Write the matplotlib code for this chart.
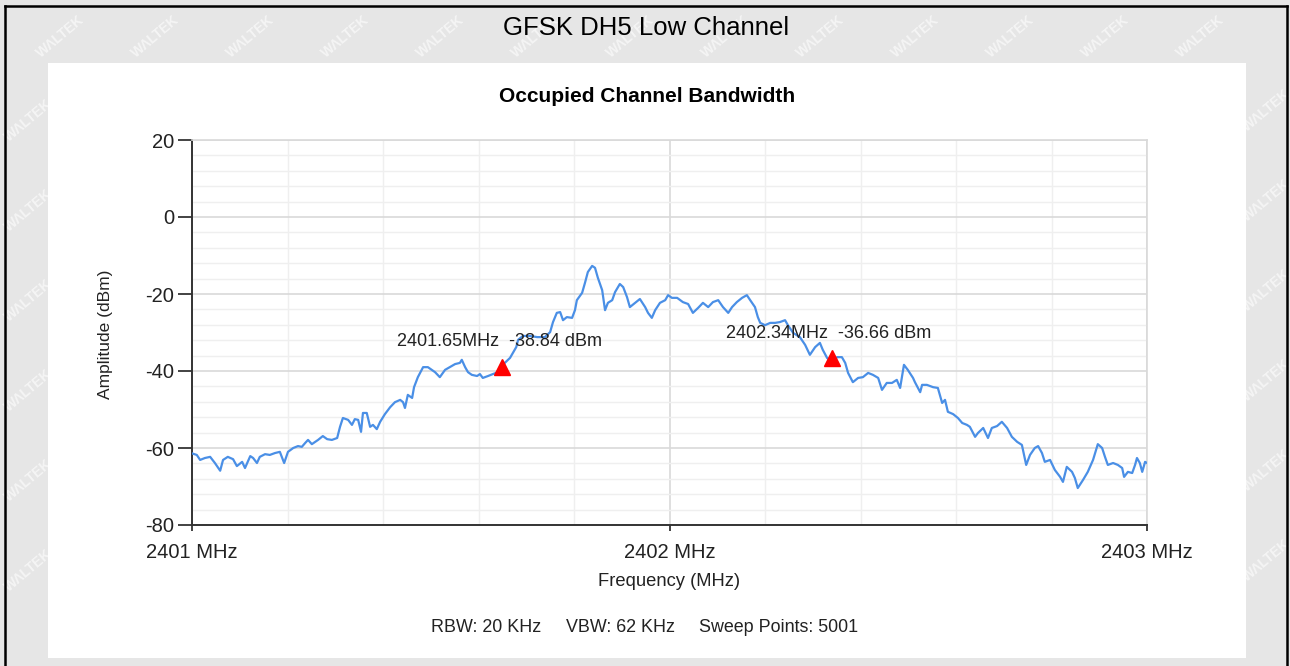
import matplotlib
matplotlib.use('Agg')
import matplotlib.pyplot as plt
from matplotlib.patches import Rectangle
from matplotlib.lines import Line2D
from matplotlib.ticker import MultipleLocator

plt.rcParams['font.family'] = ['Liberation Sans', 'DejaVu Sans']
plt.rcParams['axes.unicode_minus'] = False

# ---------------- data ----------------
freq = [2401.000, 2401.010, 2401.017, 2401.027, 2401.038, 2401.048, 2401.059, 2401.065,
        2401.075, 2401.086, 2401.094, 2401.105, 2401.111, 2401.122, 2401.128, 2401.136,
        2401.142, 2401.153, 2401.163, 2401.174, 2401.184, 2401.193, 2401.201, 2401.212,
        2401.222, 2401.230, 2401.237, 2401.243, 2401.251, 2401.258, 2401.264, 2401.274,
        2401.283, 2401.293, 2401.304, 2401.310, 2401.316, 2401.327, 2401.335, 2401.341,
        2401.348, 2401.354, 2401.358, 2401.366, 2401.373, 2401.379, 2401.387, 2401.394,
        2401.404, 2401.415, 2401.425, 2401.436, 2401.442, 2401.446, 2401.452, 2401.461,
        2401.465, 2401.473, 2401.484, 2401.494, 2401.509, 2401.519, 2401.530, 2401.540,
        2401.551, 2401.561, 2401.565, 2401.572, 2401.578, 2401.586, 2401.597, 2401.603,
        2401.609, 2401.620, 2401.630, 2401.641, 2401.649, 2401.655, 2401.666, 2401.672,
        2401.679, 2401.683, 2401.693, 2401.708, 2401.723, 2401.739, 2401.750, 2401.756,
        2401.764, 2401.771, 2401.777, 2401.785, 2401.796, 2401.802, 2401.806, 2401.817,
        2401.823, 2401.829, 2401.838, 2401.844, 2401.850, 2401.859, 2401.865, 2401.871,
        2401.880, 2401.886, 2401.896, 2401.903, 2401.911, 2401.917, 2401.928, 2401.938,
        2401.949, 2401.955, 2401.963, 2401.970, 2401.980, 2401.991, 2401.997, 2402.005,
        2402.016, 2402.028, 2402.039, 2402.049, 2402.060, 2402.070, 2402.081, 2402.091,
        2402.102, 2402.112, 2402.123, 2402.131, 2402.141, 2402.152, 2402.162, 2402.169,
        2402.179, 2402.185, 2402.190, 2402.200, 2402.211, 2402.221, 2402.231, 2402.242,
        2402.248, 2402.259, 2402.273, 2402.284, 2402.294, 2402.305, 2402.315, 2402.321,
        2402.330, 2402.340, 2402.351, 2402.361, 2402.368, 2402.374, 2402.384, 2402.395,
        2402.405, 2402.416, 2402.426, 2402.437, 2402.445, 2402.455, 2402.466, 2402.476,
        2402.483, 2402.491, 2402.499, 2402.510, 2402.514, 2402.525, 2402.529, 2402.539,
        2402.552, 2402.562, 2402.571, 2402.577, 2402.583, 2402.594, 2402.604, 2402.613,
        2402.623, 2402.629, 2402.640, 2402.646, 2402.657, 2402.667, 2402.675, 2402.686,
        2402.696, 2402.707, 2402.717, 2402.728, 2402.738, 2402.747, 2402.755, 2402.765,
        2402.772, 2402.780, 2402.786, 2402.797, 2402.807, 2402.818, 2402.824, 2402.832,
        2402.843, 2402.849, 2402.855, 2402.866, 2402.876, 2402.887, 2402.897, 2402.906,
        2402.912, 2402.918, 2402.929, 2402.939, 2402.948, 2402.952, 2402.960, 2402.969,
        2402.975, 2402.979, 2402.985, 2402.990, 2402.996, 2403.000]
amp = [-61.4, -61.8, -63.1, -62.6, -62.3, -63.9, -65.9, -63.1,
       -62.3, -62.9, -64.7, -63.6, -65.2, -62.1, -62.6, -63.9,
       -62.3, -61.6, -61.8, -61.3, -61.0, -63.9, -61.0, -60.0,
       -59.5, -59.7, -58.7, -57.9, -59.0, -58.4, -57.9, -56.9,
       -57.7, -57.9, -57.4, -54.5, -52.2, -52.7, -54.0, -52.5,
       -52.7, -55.8, -50.9, -50.9, -54.5, -54.0, -55.1, -53.2,
       -51.2, -49.4, -48.1, -47.5, -48.1, -49.6, -46.2, -47.0,
       -44.2, -41.6, -39.0, -39.0, -40.3, -41.6, -39.7, -39.0,
       -38.2, -37.9, -37.1, -39.0, -40.3, -41.0, -41.3, -40.8,
       -41.8, -41.3, -40.8, -40.3, -38.8, -37.9, -36.6, -35.3,
       -33.8, -31.9, -30.9, -30.9, -31.2, -31.2, -29.9, -27.3,
       -24.9, -24.7, -26.8, -26.0, -26.2, -24.2, -21.6, -19.7,
       -17.1, -14.3, -12.7, -13.2, -15.8, -19.0, -24.2, -22.3,
       -21.6, -19.5, -17.4, -18.2, -20.8, -23.4, -22.3, -21.3,
       -23.4, -24.9, -26.2, -24.2, -22.3, -21.6, -20.3, -21.0,
       -21.0, -22.1, -22.6, -24.9, -23.6, -22.3, -23.4, -22.1,
       -21.6, -23.4, -24.9, -23.4, -22.1, -21.0, -20.3, -21.6,
       -23.4, -26.0, -27.5, -28.1, -27.5, -27.5, -27.3, -26.8,
       -28.1, -30.1, -31.2, -33.2, -35.8, -33.8, -32.7, -34.5,
       -36.6, -37.7, -36.4, -36.4, -37.9, -40.5, -42.9, -41.8,
       -41.6, -40.5, -41.0, -41.8, -44.9, -43.1, -43.1, -42.3,
       -44.4, -38.4, -39.7, -41.8, -42.9, -45.5, -43.6, -43.6,
       -44.2, -44.4, -48.3, -47.5, -50.6, -51.2, -52.2, -53.5,
       -54.0, -54.5, -57.1, -56.1, -54.8, -57.4, -54.8, -54.3,
       -53.2, -54.8, -57.1, -58.4, -59.2, -64.4, -61.8, -60.0,
       -59.5, -61.3, -63.6, -63.1, -65.7, -67.5, -68.8, -64.9,
       -66.2, -67.8, -70.4, -68.3, -66.2, -63.1, -59.0, -60.0,
       -62.3, -64.4, -63.9, -64.4, -65.2, -67.5, -66.2, -66.5,
       -64.4, -62.6, -63.9, -66.2, -63.6, -63.9]

marker_freq = [2401.65, 2402.34]
marker_amp = [-38.84, -36.66]
marker_labels = ['2401.65MHz  -38.84 dBm', '2402.34MHz  -36.66 dBm']

x_ticks = [2401, 2402, 2403]
x_tick_labels = ['2401 MHz', '2402 MHz', '2403 MHz']
y_ticks = [20, 0, -20, -40, -60, -80]

title = 'GFSK DH5 Low Channel'
subtitle = 'Occupied Channel Bandwidth'
x_label = 'Frequency (MHz)'
y_label = 'Amplitude (dBm)'
footer = ['RBW: 20 KHz', 'VBW: 62 KHz', 'Sweep Points: 5001']

# ---------------- layout helpers ----------------
W, H = 1290, 666
def fx(x):
    return x / W
def fy(y):
    return 1 - y / H

fig = plt.figure(figsize=(W / 100, H / 100), dpi=100, facecolor='#e6e6e6')

# watermarks on the gray margins (kept fully inside the picture)
wm_pos = [(x, 36) for x in range(60, 1240, 95)]
wm_pos += [(28, y) for y in range(120, 640, 90)]
wm_pos += [(1266, y) for y in range(110, 640, 90)]
for x, y in wm_pos:
    fig.text(fx(x), fy(y), 'WΛLTEK', rotation=40, color='white', alpha=0.6,
             fontsize=10, fontweight='bold', ha='center', va='center', zorder=-10)

# white panel
fig.patches.append(Rectangle((fx(48), fy(658)), (1246 - 48) / W, (658 - 63) / H,
                             transform=fig.transFigure, facecolor='white',
                             edgecolor='none', zorder=-5))
# outer black frame
for xs, ys in [([5, 5], [6, 700]), ([5, 1287], [6, 6]), ([1287, 1287], [6, 700])]:
    fig.lines.append(Line2D([fx(v) for v in xs], [fy(v) for v in ys],
                            transform=fig.transFigure, color='black', lw=1.8, zorder=5))

fig.text(fx(646), fy(28), title, ha='center', va='center', fontsize=18.5, color='black')
fig.text(fx(647), fy(96), subtitle, ha='center', va='center', fontsize=15,
         fontweight='bold', color='black')
fig.text(fx(105), fy(334), y_label, ha='center', va='center', rotation=90,
         fontsize=12.5, color='#222222')
fig.text(fx(669), fy(582), x_label, ha='center', va='center', fontsize=13.2,
         color='#222222')
for txt, xc in zip(footer, [486, 620, 779]):
    fig.text(fx(xc), fy(628), txt, ha='center', va='center', fontsize=12.9,
             color='#222222')

# ---------------- axes ----------------
ax = fig.add_axes([fx(192), fy(525), (1147 - 192) / W, (525 - 140) / H])
ax.set_facecolor('white')
ax.set_xlim(2401, 2403)
ax.set_ylim(-80, 20)

ax.xaxis.set_minor_locator(MultipleLocator(0.2))
ax.yaxis.set_minor_locator(MultipleLocator(4))
ax.grid(which='major', color='#d9d9d9', lw=1.2)
ax.grid(which='minor', color='#efefef', lw=1.0)
ax.set_axisbelow(True)

ax.plot(freq, amp, color='#4a8fe6', lw=1.6, zorder=3)
ax.plot(marker_freq, marker_amp, linestyle='none', marker='^', color='#ff0000',
        markersize=11, zorder=4)
for f, a, lab in zip(marker_freq, marker_amp, marker_labels):
    ax.annotate(lab, (f, a), xytext=(-2, 18), textcoords='offset points',
                ha='center', va='center', fontsize=13, color='#222222', zorder=5)

ax.set_xticks(x_ticks)
ax.set_xticklabels(x_tick_labels)
ax.set_yticks(y_ticks)
ax.tick_params(axis='x', which='major', length=4, width=1.2, pad=9,
               labelsize=14.5, colors='#222222')
ax.tick_params(axis='y', which='major', length=10, width=1.2, pad=3,
               labelsize=14.5, colors='#222222')
ax.tick_params(which='minor', length=0)

for side in ['left', 'bottom']:
    ax.spines[side].set_color('#333333')
    ax.spines[side].set_linewidth(1.4)
for side in ['top', 'right']:
    ax.spines[side].set_color('#d9d9d9')
    ax.spines[side].set_linewidth(1.2)

fig.savefig('out.png', dpi=100, facecolor=fig.get_facecolor())
